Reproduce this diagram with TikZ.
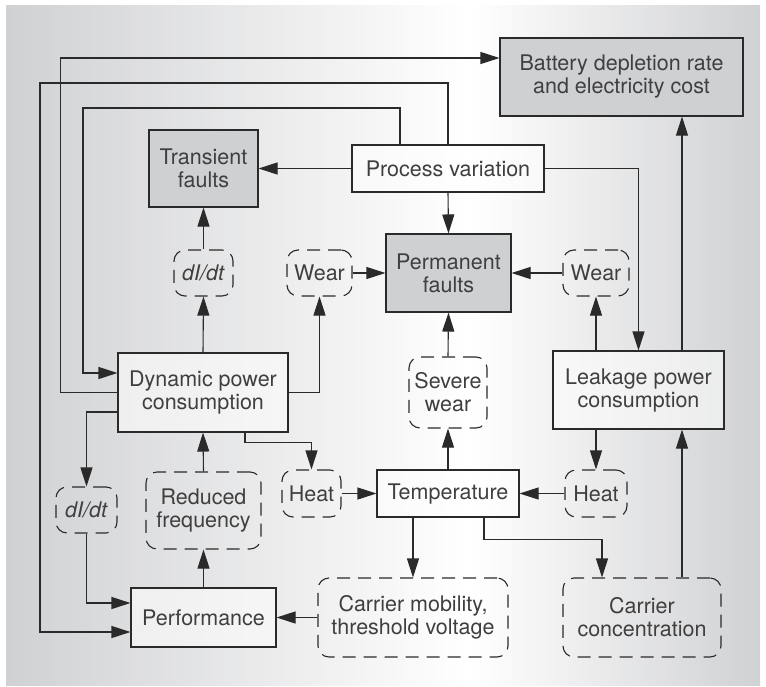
\documentclass[tikz,border=0pt]{standalone}
\usepackage{fontspec}
\setmainfont{TeX Gyre Heros}
\usepackage{xcolor}
\usetikzlibrary{arrows.meta}
\definecolor{edgeGray}{HTML}{D0D1D3}
\definecolor{boxGray}{HTML}{CFD0D2}
\definecolor{lineColor}{HTML}{2A2A2A}

\begin{document}
\begin{tikzpicture}[x=1pt, y=-1pt,
    every node/.style={font=\fontsize{21.5}{23}\selectfont, align=center, inner sep=0pt, text=lineColor!90},
    box/.style={draw=lineColor, line width=1.1pt, fill=white, fill opacity=0.55, text opacity=1},
    graybox/.style={draw=lineColor, line width=1.1pt, fill=boxGray},
    dbox/.style={draw=lineColor, line width=1.1pt, rounded corners=11pt, dash pattern=on 13pt off 8pt},
    arr/.style={draw=lineColor, line width=1.1pt, -{Triangle[length=19pt, width=12pt]}}]
    \useasboundingbox (0,0) rectangle (766,686);
    \fill[left color=edgeGray, right color=white] (6,5) rectangle (470,685);
    \fill[left color=white, right color=edgeGray] (470,5) rectangle (760,685);

    % boxes
    \node[graybox, minimum width=243pt, minimum height=78pt] (batt) at (621.5,77) {Battery depletion rate\\and electricity cost};
    \node[box, minimum width=192pt, minimum height=47pt] (proc) at (448,168.5) {Process variation};
    \node[graybox, minimum width=109pt, minimum height=77pt] (trans) at (203.5,168.5) {Transient\\faults};
    \node[graybox, minimum width=125pt, minimum height=78pt] (perm) at (448.5,273) {Permanent\\faults};
    \node[dbox, minimum width=59pt, minimum height=46pt] (didtA) at (203.5,273) {\textit{dI/dt}};
    \node[dbox, minimum width=65pt, minimum height=46pt] (wearL) at (319.5,273) {Wear};
    \node[dbox, minimum width=66pt, minimum height=46pt] (wearR) at (596,273) {Wear};
    \node[box, minimum width=170pt, minimum height=79pt] (dyn) at (203,392.5) {Dynamic power\\consumption};
    \node[dbox, minimum width=78pt, minimum height=71pt] (severe) at (448,392.5) {Severe\\wear};
    \node[box, minimum width=171pt, minimum height=78pt] (leak) at (638.5,390) {Leakage power\\consumption};
    \node[dbox, minimum width=59pt, minimum height=47pt] (heatL) at (311.5,493.5) {Heat};
    \node[box, minimum width=142pt, minimum height=47pt] (temp) at (448,493.5) {Temperature};
    \node[dbox, minimum width=62pt, minimum height=47pt] (heatR) at (596,493.5) {Heat};
    \node[dbox, minimum width=61pt, minimum height=46pt] (didtB) at (86.5,510) {\textit{dI/dt}};
    \node[dbox, minimum width=115pt, minimum height=77pt] (redf) at (203.5,510.5) {Reduced\\frequency};
    \node[box, minimum width=145pt, minimum height=59pt] (perf) at (203.5,617.5) {Performance};
    \node[dbox, minimum width=190pt, minimum height=79pt] (mob) at (413,617.5) {Carrier mobility,\\threshold voltage};
    \node[dbox, minimum width=158pt, minimum height=79pt] (conc) at (642,617.5) {Carrier\\concentration};

    \coordinate (leakUp) at ([xshift=43.5pt]leak.north);
    \coordinate (concUp) at ([xshift=40pt]conc.north);

    % long feedback lines
    \draw[arr] (dyn.west) -- ++(-57,0) |- ([yshift=19pt]batt.west);
    \draw[arr] (proc.north) |- (40,83) |- ([yshift=-14.5pt]perf.west);
    \draw[arr] ([xshift=-48pt]proc.north) |- (83,108) |- ([yshift=19.5pt]dyn.west);

    % process variation
    \draw[arr] (proc.west) -- (trans.east);
    \draw[arr] (proc.south) -- (perm.north);
    \draw[arr] (proc.east) -| (leak.north);
    \draw[arr] (leakUp) -- (leakUp |- batt.south);

    % dynamic power
    \draw[arr] (dyn.north) -- (didtA.south);
    \draw[arr] (didtA.north) -- (trans.south);
    \draw[arr] (dyn.east) -| (wearL.south);
    \draw[arr] (wearL.east) -- (perm.west);
    \draw[arr] ([xshift=42pt]dyn.south) -- ++(0,10) -| (heatL.north);
    \draw[arr] ([yshift=-19.5pt]dyn.west) -| (didtB.north);
    \draw[arr] (didtB.south) |- ([yshift=14.5pt]perf.west);

    % leakage power
    \draw[arr] (wearR.south |- leak.north) -- (wearR.south);
    \draw[arr] (wearR.west) -- (perm.east);
    \draw[arr] (heatR.north |- leak.south) -- (heatR.north);

    % temperature
    \draw[arr] (heatL.east) -- (temp.west);
    \draw[arr] (heatR.west) -- (temp.east);
    \draw[arr] (temp.north) -- (severe.south);
    \draw[arr] (severe.north) -- (perm.south);
    \draw[arr] (mob.north |- temp.south) -- (mob.north);
    \draw[arr] ([xshift=36pt]temp.south) -- ++(0,22) -| ([xshift=-40pt]conc.north);

    % performance
    \draw[arr] (perf.north) -- (redf.south);
    \draw[arr] (redf.north) -- (dyn.south);
    \draw[arr] (mob.west) -- (perf.east);
    \draw[arr] (concUp) -- (concUp |- leak.south);
\end{tikzpicture}
\end{document}
